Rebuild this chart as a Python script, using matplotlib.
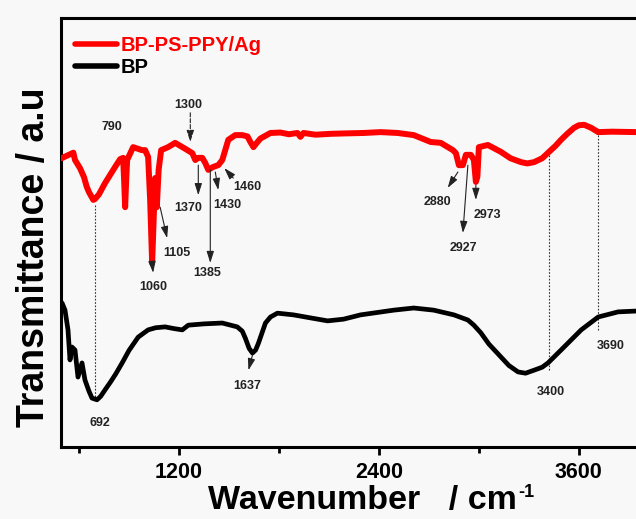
import matplotlib
matplotlib.use("Agg")
import matplotlib.pyplot as plt
from matplotlib.ticker import FixedLocator

plt.rcParams["font.family"] = ["Liberation Sans", "DejaVu Sans"]
plt.rcParams["font.weight"] = "bold"

# BP-PS-PPY/Ag spectrum (wavenumber, transmittance a.u.)
red_wn = [495, 566, 576, 606, 630, 646, 660, 686, 696, 720, 756, 817, 847, 865, 871, 877, 883, 889,
          925, 977, 997, 1015, 1027, 1039, 1048, 1057, 1067, 1078, 1093, 1135, 1177, 1238,
          1280, 1298, 1316, 1340, 1358, 1376, 1406, 1436, 1460, 1496, 1538, 1580, 1611, 1630, 1647,
          1665, 1689, 1749, 1809, 1860, 1911, 1929, 1947, 2020, 2110, 2200, 2308, 2410, 2513, 2609,
          2711, 2771, 2844, 2862, 2880, 2904, 2922, 2952, 2970, 2982, 2991, 3000, 3054, 3132, 3190,
          3253, 3290, 3331, 3380, 3421, 3460, 3493, 3530, 3571, 3600, 3632, 3674, 3716, 3800,
          3950, 4030]
red_t = [67.3, 68.6, 66.9, 65.0, 62.9, 60.7, 59.4, 57.6, 57.8, 58.9, 61.5, 65.3, 67.1, 67.4, 62.0, 55.9, 62.0, 66.9,
         69.9, 69.2, 69.2, 67.6, 57.6, 42.9, 52.9, 62.7, 55.9, 64.6, 69.2, 69.9, 70.9, 69.5,
         68.5, 66.9, 67.4, 67.4, 66.2, 64.6, 65.3, 65.7, 66.9, 71.6, 72.7, 72.7, 72.4, 71.0, 69.9,
         70.8, 71.9, 73.2, 73.3, 72.9, 73.2, 72.3, 73.2, 72.8, 73.0, 73.1, 73.2, 73.4, 73.2, 72.7,
         71.1, 70.9, 69.2, 68.5, 65.7, 65.7, 68.1, 68.1, 66.9, 61.8, 63.0, 69.9, 70.4, 68.8, 67.3,
         66.4, 66.1, 66.4, 67.3, 68.8, 70.2, 71.6, 73.0, 74.4, 75.0, 75.1, 74.4, 73.4, 73.5,
         73.4, 73.4]

# BP spectrum
black_wn = [498, 516, 534, 546, 558, 576, 594, 618, 636, 660, 678, 708, 730, 756, 790, 820, 859,
            900, 955, 990, 1015, 1060, 1117, 1170, 1220, 1256, 1350, 1460, 1550, 1580, 1598, 1621,
            1641, 1660, 1677, 1719, 1749, 1791, 1887, 1989, 2092, 2188, 2290, 2489, 2609, 2729,
            2850, 2934, 2970, 3012, 3060, 3132, 3180, 3235, 3280, 3331, 3380, 3415, 3493, 3614,
            3716, 3836, 3950, 4030]
black_t = [33.6, 31.9, 27.3, 20.3, 23.3, 22.6, 16.3, 19.6, 15.6, 13.0, 11.4, 11.0, 11.8, 13.3, 15.2, 17.0, 19.6,
           22.5, 25.6, 26.6, 27.3, 27.8, 28.0, 27.6, 27.3, 28.4, 28.7, 28.9, 28.0, 27.0, 25.4, 23.0,
           21.9, 22.6, 24.2, 28.9, 30.3, 31.2, 30.8, 30.1, 29.4, 29.8, 30.8, 31.9, 32.4, 31.9,
           30.8, 29.6, 28.4, 26.6, 24.0, 21.0, 19.0, 17.5, 17.2, 17.9, 18.6, 19.6, 22.6, 27.3,
           30.3, 31.5, 31.7, 31.7]

# peak labels: text, label position, arrow tail, arrow head (None = no arrow)
peak_text = ["790", "1300", "1370", "1430", "1460", "1385", "1105", "1060",
             "2880", "2927", "2973", "692", "1637", "3400", "3690"]
peak_xy = [(798, 74.6), (1256, 79.7), (1256, 55.7), (1490, 56.4), (1610, 60.6),
           (1370, 40.6), (1189, 45.2), (1045, 37.3), (2753, 57.1), (2904, 46.4),
           (3054, 54.1), (726, 5.6), (1610, 14.2), (3433, 12.8), (3794, 23.5)]
arrow_from = [None, (1268, 77.9), (1316, 65.7), (1418, 64.1), (1526, 62.7),
              (1388, 64.6), (1087, 55.9), (1039, 42.9), (2874, 64.1), (2934, 65.7),
              (2982, 61.1), None, (1641, 21.4), None, None]
arrow_to = [None, (1268, 71.1), (1316, 58.7), (1436, 59.9), (1472, 65.0),
            (1388, 42.9), (1129, 48.7), (1045, 40.6), (2813, 60.4), (2904, 49.9),
            (2982, 57.6), None, (1617, 17.9), None, None]
arrow_style = ["-", "dashed", "-", "-", "-", "-", "-", "-", "-", "-", "-", "-", "-", "-", "-"]

# dotted guide lines: wavenumber, top, bottom
guide_wn = [696, 3421, 3716]
guide_top = [56.4, 68.8, 74.4]
guide_bot = [11.0, 17.9, 27.3]

bg = "#f8f8f8"
fig = plt.figure(figsize=(6.36, 5.19), dpi=100, facecolor=bg)
ax = fig.add_axes([61 / 636, 72 / 519, 589 / 636, 429 / 519], facecolor=bg)

ax.plot(red_wn, red_t, color="#ff0000", lw=4.3, solid_joinstyle="round",
        solid_capstyle="round", label="BP-PS-PPY/Ag", zorder=3)
ax.plot(black_wn, black_t, color="black", lw=3.4, solid_joinstyle="round",
        solid_capstyle="round", label="BP", zorder=3)

for x, y0, y1 in zip(guide_wn, guide_bot, guide_top):
    ax.plot([x, x], [y0, y1], color="#333333", lw=0.8, ls=(0, (1.5, 1.5)), zorder=2)

for txt, xy, a0, a1, st in zip(peak_text, peak_xy, arrow_from, arrow_to, arrow_style):
    ax.text(xy[0], xy[1], txt, fontsize=9, fontweight="bold", ha="center",
            va="center", color="#222222", zorder=5)
    if a0 is not None:
        ax.annotate("", xy=a1, xytext=a0,
                    arrowprops=dict(arrowstyle="-|>,head_length=0.7,head_width=0.22",
                                    color="#222222", lw=0.8, linestyle=st,
                                    shrinkA=0, shrinkB=0), zorder=4)

ax.set_xlim(492, 4027)
ax.set_ylim(0, 100)
ax.set_yticks([])
ax.xaxis.set_major_locator(FixedLocator([1200, 2400, 3600]))
ax.xaxis.set_minor_locator(FixedLocator([600, 1800, 3000]))
ax.tick_params(axis="x", which="major", direction="out", length=6, width=2,
               labelsize=15.5, pad=5)
ax.tick_params(axis="x", which="minor", direction="out", length=4, width=2)
for lab in ax.get_xticklabels():
    lab.set_fontweight("bold")
for sp in ax.spines.values():
    sp.set_linewidth(2.2)

# x label with a small superscript placed right after it
xlab = fig.text(0.327, 0.005, "Wavenumber   / cm", fontsize=24.5, fontweight="bold",
                ha="left", va="bottom")
fig.canvas.draw()
bb = xlab.get_window_extent(fig.canvas.get_renderer())
fig.text(bb.x1 / fig.bbox.width + 0.002, bb.y1 / fig.bbox.height - 0.03, "-1",
         fontsize=13, fontweight="bold", ha="left", va="bottom")

ax.set_ylabel("Transmittance / a.u", fontsize=27, fontweight="bold")
ax.yaxis.set_label_coords(-0.016, 0.443)

leg = ax.legend(loc="upper left", bbox_to_anchor=(0.0, 0.99), frameon=False,
                handlelength=2.1, handletextpad=0.15, labelspacing=0.15,
                borderpad=0.2, labelcolor="linecolor", prop={"weight": "bold", "size": 14.5})
for h in leg.get_lines():
    h.set_linewidth(4.0)

fig.savefig("out.png", dpi=100, facecolor=bg)
